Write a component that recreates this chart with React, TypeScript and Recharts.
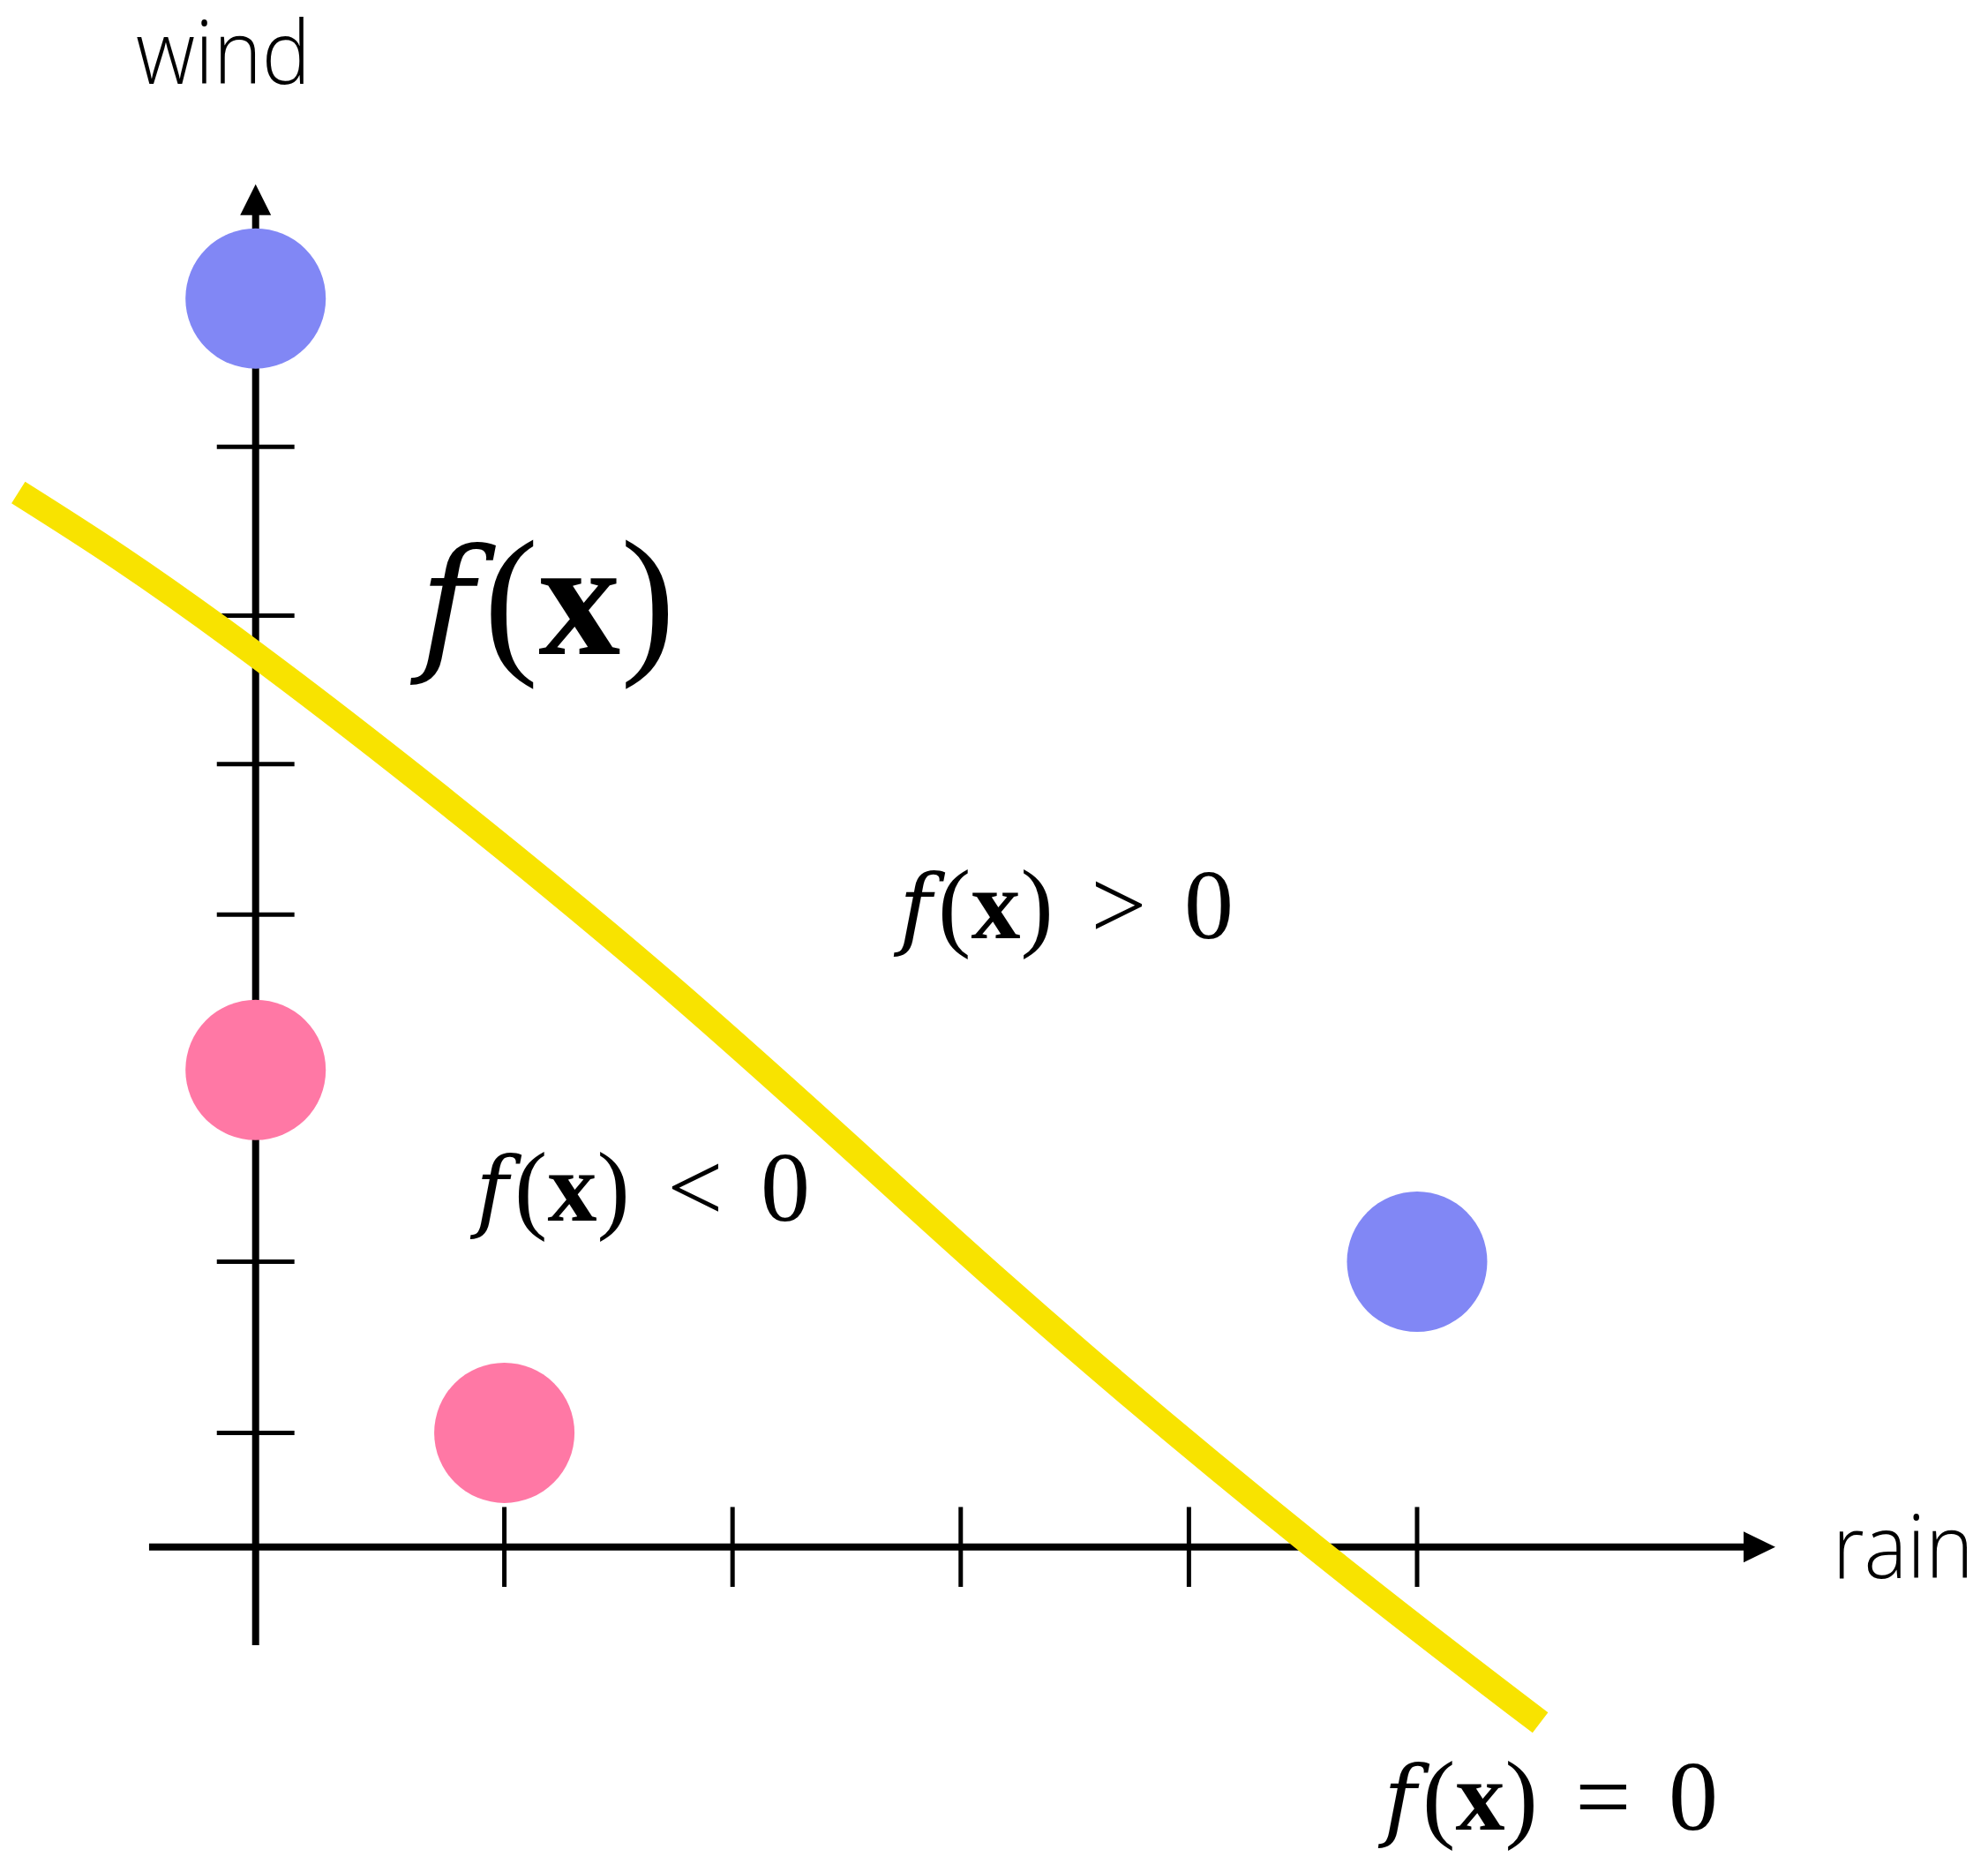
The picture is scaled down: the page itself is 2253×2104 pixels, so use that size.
import React from "react";
import {
  ComposedChart,
  Line,
  Scatter,
  XAxis,
  YAxis,
  ReferenceLine,
  ReferenceDot,
} from "recharts";

// tick positions along each axis (same unit on both axes)
const xTicks = [1.09, 2.09, 3.09, 4.09, 5.09];
const yTicks = [0.5, 1.25, 2.77, 3.43, 4.08, 4.82];

// the two classes of points
const positivePoints = [
  { x: 0, y: 5.47 },
  { x: 5.09, y: 1.25 },
];
const negativePoints = [
  { x: 0, y: 2.09 },
  { x: 1.09, y: 0.5 },
];

// decision boundary f(x) = 0
const boundaryX = [-1.04, 0, 1.74, 3.25, 4.64, 5.63];
const boundaryY = [4.62, 3.91, 2.52, 1.17, 0.0, -0.77];
const boundary = boundaryX.map((x, i) => ({ x, y: boundaryY[i] }));

const BLUE = "#8187f5";
const PINK = "#ff78a5";
const YELLOW = "#f8e300";

const W = 2253;
const H = 2104;

const SANS = "'Open Sans', 'Noto Sans', sans-serif";
const SERIF = "'Liberation Serif', 'Times New Roman', serif";
const ITALIC = "'DejaVu Serif', 'Liberation Serif', serif";

const Dot = (fill: string) => (props: any) => (
  <circle cx={props.cx} cy={props.cy} r={79.5} fill={fill} />
);

const MathLabel = ({ cx, cy, size, rel }: any) => (
  <text x={cx} y={cy} fontFamily={SERIF} fontSize={size} fill="#000">
    <tspan dx={-0.08 * size} fontFamily={ITALIC} fontStyle="italic" fontSize={size * 0.9}>
      f
    </tspan>
    <tspan dx={0.06 * size}>(</tspan>
    <tspan fontWeight="bold">x</tspan>
    <tspan>)</tspan>
    {rel && <tspan dx="0.38em">{rel}</tspan>}
    {rel && <tspan dx="0.38em">0</tspan>}
  </text>
);

const AxisName = ({ cx, cy, label, len }: any) => (
  <text
    x={cx}
    y={cy}
    fontFamily={SANS}
    fontWeight={300}
    fontSize={100}
    textLength={len}
    lengthAdjust="spacingAndGlyphs"
    fill="#000"
  >
    {label}
  </text>
);

export default function App() {
  return (
    <div style={{ position: "absolute", left: 0, top: 0, background: "#fff" }}>
      <ComposedChart
        width={W}
        height={H}
        margin={{ top: 0, right: 0, bottom: 0, left: 0 }}
      >
        <XAxis
          type="number"
          dataKey="x"
          domain={[-1.1203, 7.592]}
          allowDataOverflow
          hide
        />
        <YAxis
          type="number"
          domain={[-1.3585, 6.7776]}
          allowDataOverflow
          hide
        />

        {/* axes */}
        <ReferenceLine
          segment={[{ x: -0.467, y: 0 }, { x: 6.53, y: 0 }]}
          stroke="#000"
          strokeWidth={8}
          zIndex={100}
        />
        <ReferenceLine
          segment={[{ x: 0, y: -0.43 }, { x: 0, y: 5.84 }]}
          stroke="#000"
          strokeWidth={8}
          zIndex={100}
        />
        {xTicks.map((t) => (
          <ReferenceLine
            key={`xt-${t}`}
            segment={[{ x: t, y: -0.175 }, { x: t, y: 0.175 }]}
            stroke="#000"
            strokeWidth={5}
            zIndex={100}
          />
        ))}
        {yTicks.map((t) => (
          <ReferenceLine
            key={`yt-${t}`}
            segment={[{ x: -0.17, y: t }, { x: 0.17, y: t }]}
            stroke="#000"
            strokeWidth={5}
            zIndex={100}
          />
        ))}
        {/* arrow heads */}
        <ReferenceDot
          x={6.66}
          y={0}
          r={1}
          zIndex={100}
          shape={({ cx, cy }: any) => (
            <polygon
              points={`${cx},${cy} ${cx - 36},${cy - 17.5} ${cx - 36},${cy + 17.5}`}
              fill="#000"
            />
          )}
        />
        <ReferenceDot
          x={0}
          y={5.97}
          r={1}
          zIndex={100}
          shape={({ cx, cy }: any) => (
            <polygon
              points={`${cx},${cy} ${cx - 17.5},${cy + 35} ${cx + 17.5},${cy + 35}`}
              fill="#000"
            />
          )}
        />

        <Scatter
          data={positivePoints}
          dataKey="y"
          shape={Dot(BLUE)}
          isAnimationActive={false}
          zIndex={200}
        />
        <Scatter
          data={negativePoints}
          dataKey="y"
          shape={Dot(PINK)}
          isAnimationActive={false}
          zIndex={200}
        />

        <Line
          data={boundary}
          dataKey="y"
          type="natural"
          stroke={YELLOW}
          strokeWidth={29}
          strokeLinecap="butt"
          dot={false}
          activeDot={false}
          isAnimationActive={false}
          zIndex={300}
        />

        {/* axis names */}
        <ReferenceDot
          x={-0.525}
          y={6.41}
          r={1}
          zIndex={400}
          shape={(p: any) => <AxisName cx={p.cx} cy={p.cy} label="wind" len={198} />}
        />
        <ReferenceDot
          x={6.91}
          y={-0.135}
          r={1}
          zIndex={400}
          shape={(p: any) => <AxisName cx={p.cx} cy={p.cy} label="rain" len={160} />}
        />

        {/* formula labels */}
        <ReferenceDot
          x={0.775}
          y={3.912}
          r={1}
          zIndex={400}
          shape={(p: any) => <MathLabel cx={p.cx} cy={p.cy} size={186} />}
        />
        <ReferenceDot
          x={2.855}
          y={2.667}
          r={1}
          zIndex={400}
          shape={(p: any) => <MathLabel cx={p.cx} cy={p.cy} size={112} rel=">" />}
        />
        <ReferenceDot
          x={0.999}
          y={1.43}
          r={1}
          zIndex={400}
          shape={(p: any) => <MathLabel cx={p.cx} cy={p.cy} size={112} rel="<" />}
        />
        <ReferenceDot
          x={4.978}
          y={-1.239}
          r={1}
          zIndex={400}
          shape={(p: any) => <MathLabel cx={p.cx} cy={p.cy} size={112} rel="=" />}
        />
      </ComposedChart>
    </div>
  );
}
